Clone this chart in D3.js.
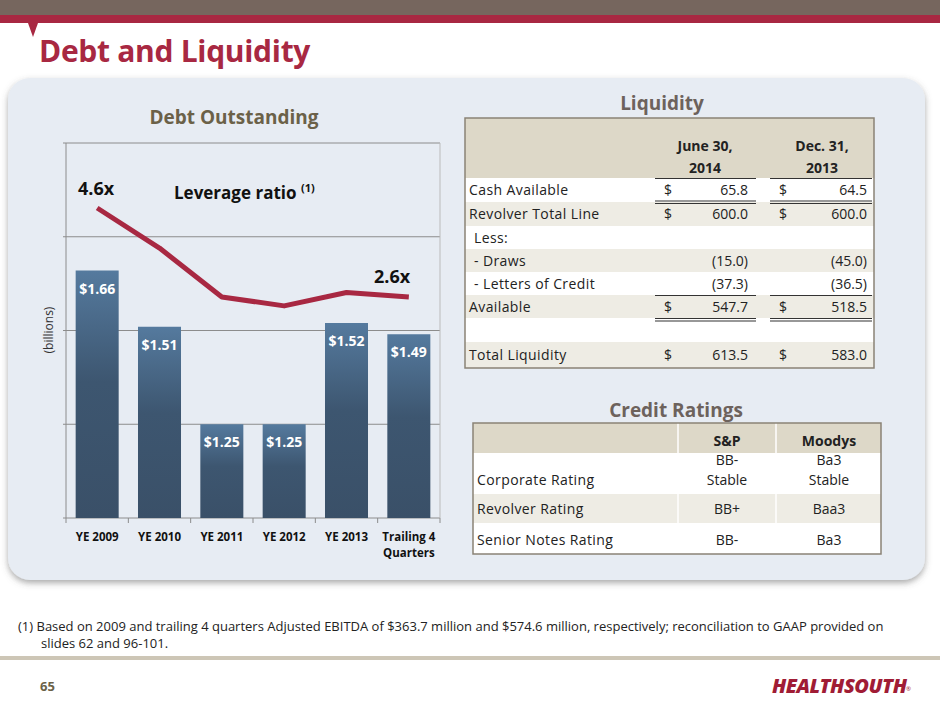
<!DOCTYPE html>
<html><head><meta charset="utf-8">
<script src="https://cdn.jsdelivr.net/npm/d3@7"></script>
<style>body{margin:0;background:#fff}svg{display:block}text{font-family:"Open Sans","DejaVu Sans",sans-serif}</style>
</head><body><svg id="c" width="940" height="705"></svg>
<script>
const categories=["YE 2009","YE 2010","YE 2011","YE 2012","YE 2013","Trailing 4|Quarters"];
const debt=[1.66,1.51,1.25,1.25,1.52,1.49];
const debtLabels=["$1.66","$1.51","$1.25","$1.25","$1.52","$1.49"];
const leverage=[4.6,3.7,2.6,2.4,2.7,2.6];
const yTicks=[1.0,1.25,1.5,1.75,2.0];
const liqHeaders=["June 30,|2014","Dec. 31,|2013"];
const liqRows=[["Cash Available","$","65.8","$","64.5"],["Revolver Total Line","$","600.0","$","600.0"],["  Less:","","","",""],["  - Draws","","(15.0)","","(45.0)"],["  - Letters of Credit","","(37.3)","","(36.5)"],["Available","$","547.7","$","518.5"],["","","","",""],["Total Liquidity","$","613.5","$","583.0"]];
const crHeaders=["S&P","Moodys"];
const crRows=[["Corporate Rating","BB-|Stable","Ba3|Stable"],["Revolver Rating","BB+","Baa3"],["Senior Notes Rating","BB-","Ba3"]];

const svg=d3.select("#c");
const defs=svg.append("defs");
const g1=defs.append("linearGradient").attr("id","bg").attr("x1",0).attr("x2",0).attr("y1",0).attr("y2",1);
g1.append("stop").attr("offset","0").attr("stop-color","#557a9e");
g1.append("stop").attr("offset","0.45").attr("stop-color","#3d5670");
g1.append("stop").attr("offset","1").attr("stop-color","#3a5068");
const sh=defs.append("filter").attr("id","sh").attr("x","-5%").attr("y","-5%").attr("width","110%").attr("height","115%");
sh.append("feDropShadow").attr("dx",0).attr("dy",3).attr("stdDeviation",3).attr("flood-color","#555").attr("flood-opacity",0.5);

svg.append("rect").attr("x",0).attr("y",0).attr("width",940).attr("height",15).attr("fill","#76665e");
svg.append("rect").attr("x",0).attr("y",15).attr("width",940).attr("height",8).attr("fill","#a82842");
svg.append("path").attr("d","M28,23 L38,23 L33,37 Z").attr("fill","#a82842");
svg.append("text").attr("x",39).attr("y",62).attr("fill","#a82842").attr("font-size",30).attr("font-weight","bold").attr("letter-spacing",-0.3).text("Debt and Liquidity");
svg.append("rect").attr("x",8).attr("y",78).attr("width",917).attr("height",502).attr("rx",22).attr("fill","#e7ecf3").attr("filter","url(#sh)");

const x=d3.scaleBand().domain(categories).range([66,440]).paddingInner(0.31).paddingOuter(0.155);
const y=d3.scaleLinear().domain([1.0,2.0]).range([518,143]);
const yL=d3.scaleLinear().domain([2.6,4.6]).range([297,208]);
const gc=svg.append("g");
gc.selectAll(".gl").data(yTicks).join("line").attr("x1",63).attr("x2",440).attr("y1",d=>y(d)).attr("y2",d=>y(d)).attr("stroke","#8c8c8c").attr("stroke-width",1);
gc.append("line").attr("x1",66).attr("x2",66).attr("y1",143).attr("y2",518).attr("stroke","#8c8c8c");
gc.append("line").attr("x1",440).attr("x2",440).attr("y1",143).attr("y2",518).attr("stroke","#bbb");
gc.selectAll(".xt").data(d3.range(7)).join("line").attr("x1",d=>66+d*(374/6)).attr("x2",d=>66+d*(374/6)).attr("y1",518).attr("y2",523).attr("stroke","#8c8c8c");
gc.selectAll(".bar").data(debt).join("rect").attr("x",(d,i)=>x(categories[i])).attr("width",x.bandwidth()).attr("y",d=>y(d)).attr("height",d=>518-y(d)).attr("fill","url(#bg)");
gc.selectAll(".bl").data(debt).join("text").attr("x",(d,i)=>x(categories[i])+x.bandwidth()/2).attr("y",d=>y(d)+23).attr("text-anchor","middle").attr("fill","#fff").attr("font-weight","bold").attr("font-size",14).text((d,i)=>debtLabels[i]);
const line=d3.line().x((d,i)=>x(categories[i])+x.bandwidth()/2).y(d=>yL(d));
gc.append("path").attr("d",line(leverage)).attr("fill","none").attr("stroke","#a82842").attr("stroke-width",5).attr("stroke-linejoin","round");
gc.selectAll(".xl").data(categories).join("text").attr("x",d=>x(d)+x.bandwidth()/2).attr("y",541).attr("text-anchor","middle").attr("font-size",11.5).attr("font-weight","bold").attr("fill","#111")
  .each(function(d){const p=d.split("|");d3.select(this).selectAll("tspan").data(p).join("tspan").attr("x",x(d)+x.bandwidth()/2).attr("dy",(t,j)=>j?16:0).text(t=>t);});
gc.append("text").attr("transform","translate(53,330) rotate(-90)").attr("text-anchor","middle").attr("font-size",12).attr("fill","#333").text("(billions)");
gc.append("text").attr("x",234).attr("y",124).attr("text-anchor","middle").attr("font-size",19).attr("font-weight","bold").attr("fill","#6b6148").text("Debt Outstanding");
gc.append("text").attr("x",78).attr("y",195).attr("font-size",18).attr("font-weight","bold").attr("fill","#111").text("4.6x");
gc.append("text").attr("x",374).attr("y",283).attr("font-size",18).attr("font-weight","bold").attr("fill","#111").text("2.6x");
const lr=gc.append("text").attr("x",174).attr("y",199).attr("font-size",17).attr("font-weight","bold").attr("fill","#111").text("Leverage ratio ");
lr.append("tspan").attr("font-size",11).attr("dy",-7).text("(1)");

const T=svg.append("g");
T.append("text").attr("x",662).attr("y",110).attr("text-anchor","middle").attr("font-size",19).attr("font-weight","bold").attr("fill","#6d625c").text("Liquidity");
T.append("rect").attr("x",465).attr("y",118).attr("width",409).attr("height",60).attr("fill","#ddd8c8");
const rowY=[178,202,226,249,272,295,318,342,368];
liqRows.forEach((r,i)=>{
  T.append("rect").attr("x",465).attr("y",rowY[i]).attr("width",409).attr("height",rowY[i+1]-rowY[i]).attr("fill",i%2?"#eeece4":"#fff");
  const cy=rowY[i]+(rowY[i+1]-rowY[i])/2+5;
  T.append("text").attr("x",r[0].startsWith("  ")?474:469).attr("y",cy).attr("font-size",14).attr("fill","#222").attr("letter-spacing",0.4).text(r[0].trim());
  [[668,r[1],"middle"],[748,r[2],"end"],[783,r[3],"middle"],[867,r[4],"end"]].forEach(c=>{if(c[1])T.append("text").attr("x",c[0]).attr("y",cy).attr("text-anchor",c[2]).attr("font-size",14).attr("fill","#222").text(c[1]);});
});
T.append("rect").attr("x",465).attr("y",118).attr("width",409).attr("height",250).attr("fill","none").attr("stroke","#8a8276").attr("stroke-width",1.5);
liqHeaders.forEach((h,i)=>{const cx=[705,822][i];h.split("|").forEach((t,j)=>T.append("text").attr("x",cx).attr("y",151+j*22).attr("text-anchor","middle").attr("font-size",14).attr("font-weight","bold").attr("fill","#222").text(t));});
[[655,756],[770,872]].forEach(s=>{
  T.append("line").attr("x1",s[0]).attr("x2",s[1]).attr("y1",178.5).attr("y2",178.5).attr("stroke","#333");
  [201,203.5,295.5,318.5,321].forEach(yy=>T.append("line").attr("x1",s[0]).attr("x2",s[1]).attr("y1",yy).attr("y2",yy).attr("stroke","#333").attr("stroke-width",1.2));
});

const C=svg.append("g");
C.append("text").attr("x",676).attr("y",417).attr("text-anchor","middle").attr("font-size",19).attr("font-weight","bold").attr("fill","#6d625c").text("Credit Ratings");
C.append("rect").attr("x",473).attr("y",423).attr("width",408).attr("height",30).attr("fill","#ddd8c8");
const cY=[453,494,523,554];
crRows.forEach((r,i)=>{
  C.append("rect").attr("x",473).attr("y",cY[i]).attr("width",408).attr("height",cY[i+1]-cY[i]).attr("fill",i%2?"#eeece4":"#fff");
  const by=cY[i+1]-9;
  C.append("text").attr("x",477).attr("y",by).attr("font-size",14).attr("fill","#222").attr("letter-spacing",0.4).text(r[0]);
  [727,829].forEach((cx,k)=>{const p=r[k+1].split("|");p.forEach((t,j)=>C.append("text").attr("x",cx).attr("y",by-(p.length-1-j)*20).attr("text-anchor","middle").attr("font-size",14).attr("fill","#222").text(t));});
});
[678,776].forEach(xx=>C.append("line").attr("x1",xx).attr("x2",xx).attr("y1",423).attr("y2",554).attr("stroke","#fff").attr("stroke-width",1.5));
crHeaders.forEach((h,i)=>C.append("text").attr("x",[727,829][i]).attr("y",446).attr("text-anchor","middle").attr("font-size",14).attr("font-weight","bold").attr("fill","#222").text(h));
C.append("rect").attr("x",473).attr("y",423).attr("width",408).attr("height",131).attr("fill","none").attr("stroke","#8a8276").attr("stroke-width",1.5);

svg.append("text").attr("x",18).attr("y",631).attr("font-size",13).attr("fill","#222").text("(1)  Based on 2009 and trailing 4 quarters Adjusted EBITDA of $363.7 million and $574.6 million, respectively; reconciliation to GAAP provided on");
svg.append("text").attr("x",41).attr("y",648).attr("font-size",13).attr("fill","#222").text("slides 62 and 96-101.");
svg.append("rect").attr("x",0).attr("y",656).attr("width",940).attr("height",4).attr("fill","#cdc6b6");
svg.append("text").attr("x",40).attr("y",691).attr("font-size",13).attr("font-weight","bold").attr("fill","#6b6148").text("65");
svg.append("text").attr("x",772).attr("y",693).attr("font-size",20).attr("font-weight","800").attr("font-style","italic").attr("fill","#a01c35").attr("letter-spacing",-0.5).text("HEALTHSOUTH");
svg.append("text").attr("x",906).attr("y",691).attr("font-size",6).attr("fill","#a01c35").text("®");
</script></body></html>
